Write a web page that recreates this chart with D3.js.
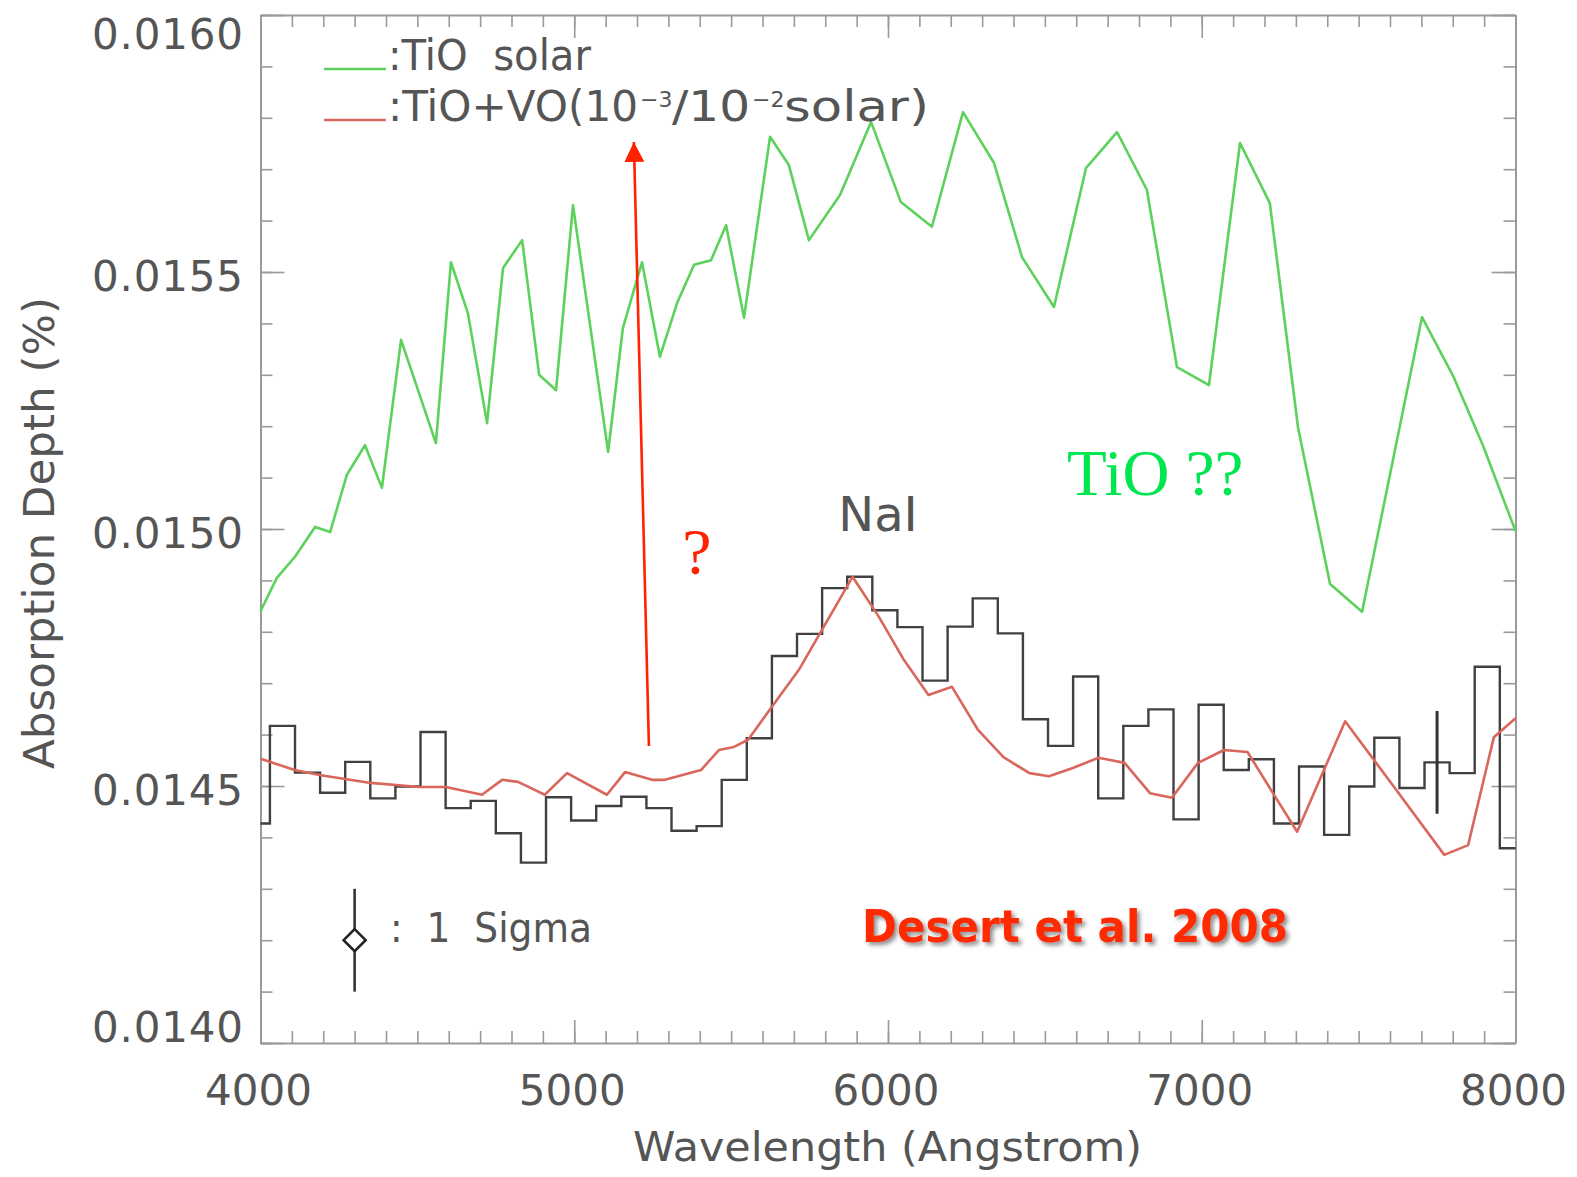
<!DOCTYPE html>
<html>
<head>
<meta charset="utf-8">
<script src="https://cdnjs.cloudflare.com/ajax/libs/d3/7.8.5/d3.min.js"></script>
<style>
body { margin: 0; background: #fff; }
text { font-family: "DejaVu Sans", sans-serif; white-space: pre; }
.axis .domain { stroke: #9a9a9a; stroke-width: 2; }
.axis line { stroke: #9a9a9a; stroke-width: 1.6; }
</style>
</head>
<body>
<svg></svg>
<script>
var width = 1577, height = 1177;
var plot = {left: 260.5, right: 1515.5, top: 15, bottom: 1043};

// tick labels
var xTicks = [4000, 5000, 6000, 7000, 8000];
var yTicks = [0.0140, 0.0145, 0.0150, 0.0155, 0.0160];
var yTickLabels = ["0.0140", "0.0145", "0.0150", "0.0155", "0.0160"];

// observed spectrum (histogram), bin edges in Angstrom
var binEdges = [4000, 4030, 4110, 4190, 4270, 4350, 4430, 4510, 4590, 4670, 4750,
  4830, 4910, 4990, 5070, 5150, 5230, 5310, 5390, 5470, 5550, 5630, 5710, 5790,
  5870, 5950, 6030, 6110, 6190, 6270, 6350, 6430, 6510, 6590, 6670, 6750, 6830,
  6910, 6990, 7070, 7150, 7230, 7310, 7390, 7470, 7550, 7630, 7710, 7790, 7870,
  7950, 8000];
var binDepth = [0.014427, 0.014617, 0.014526, 0.014487, 0.014547, 0.014476, 0.014499,
  0.014605, 0.014457, 0.014471, 0.014408, 0.014351, 0.014478, 0.014433, 0.014461,
  0.014479, 0.014457, 0.014413, 0.014422, 0.014512, 0.014593, 0.014753, 0.014796,
  0.014885, 0.014907, 0.014842, 0.014809, 0.014705, 0.014810, 0.014865, 0.014797,
  0.014630, 0.014578, 0.014713, 0.014476, 0.014617, 0.014649, 0.014435, 0.014658,
  0.014531, 0.014552, 0.014427, 0.014538, 0.014405, 0.014499, 0.014594, 0.014496,
  0.014546, 0.014525, 0.014732, 0.014379];

// model: TiO solar (green)
var tioWave = [4000, 4052, 4110, 4174, 4222, 4275, 4333, 4387, 4448, 4559, 4607, 4661,
  4722, 4773, 4834, 4888, 4942, 4996, 5108, 5155, 5216, 5273, 5328, 5382, 5436, 5484,
  5541, 5624, 5684, 5748, 5847, 5946, 6041, 6140, 6239, 6338, 6427, 6529, 6631, 6730,
  6825, 6921, 7023, 7122, 7217, 7307, 7409, 7511, 7702, 7801, 7896, 8000];
var tioDepth = [0.014840, 0.014905, 0.014946, 0.015004, 0.014994, 0.015105, 0.015163,
  0.015080, 0.015368, 0.015167, 0.015519, 0.015420, 0.015206, 0.015508, 0.015562,
  0.015300, 0.015270, 0.015630, 0.015150, 0.015391, 0.015519, 0.015335, 0.015440,
  0.015514, 0.015523, 0.015591, 0.015411, 0.015763, 0.015708, 0.015562, 0.015650,
  0.015792, 0.015636, 0.015588, 0.015811, 0.015712, 0.015529, 0.015432, 0.015702,
  0.015772, 0.015660, 0.015315, 0.015280, 0.015751, 0.015634, 0.015197, 0.014893,
  0.014839, 0.015412, 0.015298, 0.015163, 0.014996];

// model: TiO+VO 10^-3/10^-2 solar (red)
var voWave = [4000, 4109, 4193, 4351, 4507, 4591, 4706, 4770, 4821, 4906, 4977, 5104,
  5162, 5248, 5289, 5404, 5461, 5509, 5554, 5630, 5716, 5802, 5887, 5971, 6051, 6129,
  6204, 6287, 6368, 6451, 6513, 6589, 6671, 6754, 6835, 6905, 6988, 7071, 7146, 7221,
  7304, 7457, 7613, 7773, 7849, 7931, 8000];
var voDepth = [0.014553, 0.014531, 0.014521, 0.014506, 0.014498, 0.014498, 0.014483,
  0.014512, 0.014508, 0.014483, 0.014525, 0.014483, 0.014527, 0.014512, 0.014512,
  0.014531, 0.014570, 0.014576, 0.014590, 0.014654, 0.014726, 0.014817, 0.014907,
  0.014829, 0.014745, 0.014677, 0.014693, 0.014609, 0.014556, 0.014525, 0.014519,
  0.014535, 0.014555, 0.014545, 0.014486, 0.014477, 0.014545, 0.014570, 0.014566,
  0.014492, 0.014411, 0.014626, 0.014498, 0.014366, 0.014385, 0.014595, 0.014632];

// 1 sigma error bars: [wave, depth, sigma]
var errBar = [7750, 0.014546, 0.0001];
var sigmaKey = [4300, 0.014200, 0.0001];

// scales
var x = d3.scaleLinear().domain([4000, 8000]).range([plot.left, plot.right]);
var y = d3.scaleLinear().domain([0.0140, 0.0160]).range([plot.bottom, plot.top]);

var svg = d3.select("svg")
    .attr("width", width)
    .attr("height", height);

var defs = svg.append("defs");
defs.append("filter").attr("id", "shadow")
    .attr("x", "-10%").attr("y", "-30%").attr("width", "120%").attr("height", "160%")
  .append("feDropShadow")
    .attr("dx", 3).attr("dy", 3).attr("stdDeviation", 2)
    .attr("flood-color", "#444").attr("flood-opacity", 0.6);
defs.append("marker").attr("id", "arrow")
    .attr("markerUnits", "userSpaceOnUse")
    .attr("markerWidth", 22).attr("markerHeight", 22)
    .attr("refX", 20).attr("refY", 10)
    .attr("orient", "auto")
  .append("path")
    .attr("d", "M0,0L20,10L0,20Z")
    .attr("fill", "#ff2200");

// axes: major + minor ticks on all four sides
var minorX = d3.range(4000, 8001, 100);
var minorY = d3.range(0, 21).map(function(i) { return 0.0140 + i * 0.0001; });

function addAxis(gen, vals, size, tr, domain) {
  var g = svg.append("g")
      .attr("class", "axis")
      .attr("transform", tr)
      .call(gen.tickValues(vals).tickSizeInner(-size).tickSizeOuter(0).tickFormat(""));
  if (!domain) g.select(".domain").remove();
}
addAxis(d3.axisBottom(x), minorX, 12, "translate(0," + plot.bottom + ")", true);
addAxis(d3.axisBottom(x), xTicks, 23, "translate(0," + plot.bottom + ")", false);
addAxis(d3.axisTop(x), minorX, 12, "translate(0," + plot.top + ")", true);
addAxis(d3.axisTop(x), xTicks, 23, "translate(0," + plot.top + ")", false);
addAxis(d3.axisLeft(y), minorY, 12, "translate(" + plot.left + ",0)", true);
addAxis(d3.axisLeft(y), yTicks, 24, "translate(" + plot.left + ",0)", false);
addAxis(d3.axisRight(y), minorY, 12, "translate(" + plot.right + ",0)", true);
addAxis(d3.axisRight(y), yTicks, 24, "translate(" + plot.right + ",0)", false);

// tick labels
svg.selectAll(".xlab")
    .data(xTicks)
  .enter().append("text")
    .attr("class", "xlab")
    .attr("x", function(d) { return x(d) - 2; })
    .attr("y", 1105)
    .attr("text-anchor", "middle")
    .attr("font-size", 42)
    .attr("fill", "#555")
    .text(function(d) { return d; });

svg.selectAll(".ylab")
    .data(yTicks)
  .enter().append("text")
    .attr("class", "ylab")
    .attr("x", 243)
    .attr("y", function(d) { return Math.min(Math.max(y(d) + 4, 34), 1027) + 15; })
    .attr("text-anchor", "end")
    .attr("font-size", 42)
    .attr("fill", "#555")
    .attr("textLength", 151)
    .attr("lengthAdjust", "spacing")
    .text(function(d, i) { return yTickLabels[i]; });

// axis titles
svg.append("text")
    .attr("x", 633).attr("y", 1161)
    .attr("font-size", 41)
    .attr("fill", "#555")
    .attr("textLength", 509)
    .attr("lengthAdjust", "spacingAndGlyphs")
    .text("Wavelength (Angstrom)");

svg.append("text")
    .attr("transform", "translate(54,769) rotate(-90)")
    .attr("font-size", 42)
    .attr("fill", "#555")
    .attr("textLength", 472)
    .attr("lengthAdjust", "spacingAndGlyphs")
    .text("Absorption Depth (%)");

var line = d3.line()
    .x(function(d) { return x(d[0]); })
    .y(function(d) { return y(d[1]); });

// green TiO model
svg.append("path")
    .datum(tioWave.map(function(w, i) { return [w, tioDepth[i]]; }))
    .attr("d", line)
    .attr("fill", "none")
    .attr("stroke", "#5cd25c")
    .attr("stroke-width", 2.6)
    .attr("stroke-linejoin", "round");

// histogram of measured depth
var steps = [];
binDepth.forEach(function(v, i) {
  steps.push([binEdges[i], v]);
  steps.push([binEdges[i + 1], v]);
});
svg.append("path")
    .datum(steps)
    .attr("d", line)
    .attr("fill", "none")
    .attr("stroke", "#404040")
    .attr("stroke-width", 2.4);

// red TiO+VO model
svg.append("path")
    .datum(voWave.map(function(w, i) { return [w, voDepth[i]]; }))
    .attr("d", line)
    .attr("fill", "none")
    .attr("stroke", "#d9675c")
    .attr("stroke-width", 2.6)
    .attr("stroke-linejoin", "round");

// error bars
svg.append("line")
    .attr("x1", x(errBar[0])).attr("x2", x(errBar[0]))
    .attr("y1", y(errBar[1] + errBar[2])).attr("y2", y(errBar[1] - errBar[2]))
    .attr("stroke", "#333").attr("stroke-width", 3);

svg.append("line")
    .attr("x1", x(sigmaKey[0])).attr("x2", x(sigmaKey[0]))
    .attr("y1", y(sigmaKey[1] + sigmaKey[2])).attr("y2", y(sigmaKey[1] - sigmaKey[2]))
    .attr("stroke", "#333").attr("stroke-width", 2.6);
svg.append("path")
    .attr("transform", "translate(" + x(sigmaKey[0]) + "," + y(sigmaKey[1]) + ")")
    .attr("d", "M0,-11L11,0L0,11L-11,0Z")
    .attr("fill", "#fff")
    .attr("stroke", "#222")
    .attr("stroke-width", 2.6);
svg.append("text")
    .attr("x", 390).attr("y", 942)
    .attr("font-size", 40)
    .attr("fill", "#555")
    .attr("textLength", 202)
    .attr("lengthAdjust", "spacingAndGlyphs")
    .text(":  1  Sigma");

// legend
svg.append("line")
    .attr("x1", 324).attr("x2", 386).attr("y1", 69).attr("y2", 69)
    .attr("stroke", "#5cd25c").attr("stroke-width", 2.6);
svg.append("text")
    .attr("x", 388).attr("y", 70)
    .attr("font-size", 43)
    .attr("fill", "#555")
    .attr("textLength", 203)
    .attr("lengthAdjust", "spacingAndGlyphs")
    .text(":TiO  solar");

svg.append("line")
    .attr("x1", 324).attr("x2", 386).attr("y1", 120).attr("y2", 120)
    .attr("stroke", "#d9675c").attr("stroke-width", 2.6);
var leg2 = svg.append("g")
    .attr("font-size", 42)
    .attr("fill", "#555");
leg2.append("text").attr("x", 388).attr("y", 121)
    .attr("textLength", 250).attr("lengthAdjust", "spacingAndGlyphs")
    .text(":TiO+VO(10");
leg2.append("text").attr("x", 640).attr("y", 107).attr("font-size", 22).text("\u22123");
leg2.append("text").attr("x", 672).attr("y", 121)
    .attr("textLength", 78).attr("lengthAdjust", "spacingAndGlyphs")
    .text("/10");
leg2.append("text").attr("x", 752).attr("y", 107).attr("font-size", 22).text("\u22122");
leg2.append("text").attr("x", 784).attr("y", 121)
    .attr("textLength", 145).attr("lengthAdjust", "spacingAndGlyphs")
    .text("solar)");

// NaI label
svg.append("text")
    .attr("x", 878).attr("y", 531)
    .attr("text-anchor", "middle")
    .attr("font-size", 48)
    .attr("fill", "#555")
    .text("NaI");

// annotations
svg.append("line")
    .attr("x1", x(5238)).attr("y1", y(0.014578))
    .attr("x2", x(5190)).attr("y2", y(0.015753))
    .attr("stroke", "#ff2200")
    .attr("stroke-width", 2.6)
    .attr("marker-end", "url(#arrow)");

svg.append("text")
    .attr("x", 697).attr("y", 574)
    .attr("text-anchor", "middle")
    .style("font-family", "'Liberation Serif', serif")
    .attr("font-size", 66)
    .attr("fill", "#ff2200")
    .text("?");

svg.append("text")
    .attr("x", 1067).attr("y", 495)
    .style("font-family", "'Liberation Serif', serif")
    .attr("font-size", 65)
    .attr("fill", "#00e650")
    .text("TiO ??");

svg.append("text")
    .attr("x", 862).attr("y", 942)
    .style("font-family", "'DejaVu Sans', sans-serif")
    .attr("font-weight", "bold")
    .attr("font-size", 44)
    .attr("fill", "#ff2a00")
    .attr("textLength", 426)
    .attr("lengthAdjust", "spacingAndGlyphs")
    .attr("filter", "url(#shadow)")
    .text("Desert et al. 2008");
</script>
</body>
</html>
